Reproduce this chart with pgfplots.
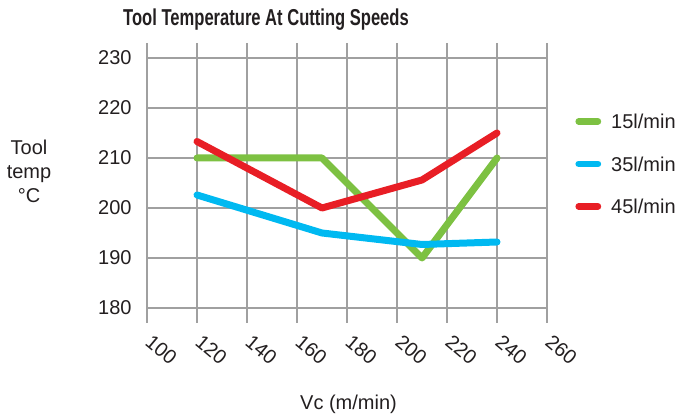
\documentclass[border=0pt]{standalone}
\usepackage{fontspec}
\setmainfont{Liberation Sans}
\usepackage{graphicx}
\usepackage{pgfplots}
\pgfplotsset{compat=1.18}
\definecolor{cgreen}{RGB}{125,193,66}
\definecolor{cblue}{RGB}{0,185,241}
\definecolor{cred}{RGB}{232,30,37}
\definecolor{gridgray}{RGB}{160,160,160}
\definecolor{txt}{RGB}{35,31,32}
\begin{document}
\begin{tikzpicture}
\useasboundingbox (-73.5pt,-54pt) rectangle (268pt,154pt);
\begin{axis}[
 at={(0,0)}, anchor=south west,
 scale only axis, width=200pt, height=125pt,
 xmin=100, xmax=260, ymin=180, ymax=230,
 xtick={100,120,...,260}, ytick={180,190,...,230},
 grid=major, grid style={color=gridgray, line width=0.75pt},
 axis line style={color=gridgray, line width=1pt},
 tick align=outside, major tick length=7.5pt,
 xtick style={color=gridgray, line width=0.6pt},
 ytick style={draw=none},
 /pgf/number format/assume math mode=true,
 /pgf/number format/1000 sep={},
 tick label style={font=\fontsize{10}{12}\selectfont, text=txt},
 xticklabel style={xshift=3pt, yshift=-5pt, rotate=-40, anchor=north west, inner sep=0pt},
 yticklabel style={anchor=east, inner sep=0pt},
 legend style={at={(1,1)}, anchor=north west, draw=none, fill=none,
   xshift=11pt, yshift=-25.9pt, row sep=14.05pt, column sep=5pt,
   nodes={inner sep=0pt, text height=7.2pt, text depth=0pt, font=\fontsize{10}{12}\selectfont, text=txt}},
 legend cell align=left,
 legend image code/.code={\draw[#1, line width=3.3pt, line cap=round] (1.7pt,0pt) -- (11.3pt,0pt);},
]
\addplot[cgreen, line width=3.5pt, line join=round, line cap=round] coordinates {(120,210) (170,210) (210,190) (240,210)};
\addlegendentry{15l/min}
\addplot[cblue, line width=3.5pt, line join=round, line cap=round] coordinates {(120,202.6) (170,195) (210,192.7) (240,193.2)};
\addlegendentry{35l/min}
\addplot[cred, line width=3.5pt, line join=round, line cap=round] coordinates {(120,213.3) (170,200) (210,205.6) (240,215)};
\addlegendentry{45l/min}
\end{axis}
\node[anchor=base, text=txt] at (59.5pt,141pt) {\scalebox{0.72}[1]{\bfseries\fontsize{11.5}{13}\selectfont Tool Temperature At Cutting Speeds}};
\node[anchor=north, align=center, inner sep=0pt, font=\fontsize{10}{12}\selectfont, text=txt] at (-59pt,84pt) {Tool\\temp\\°C};
\node[anchor=base, font=\fontsize{10}{12}\selectfont, text=txt] at (100.75pt,-50.5pt) {Vc (m/min)};
\end{tikzpicture}
\end{document}
